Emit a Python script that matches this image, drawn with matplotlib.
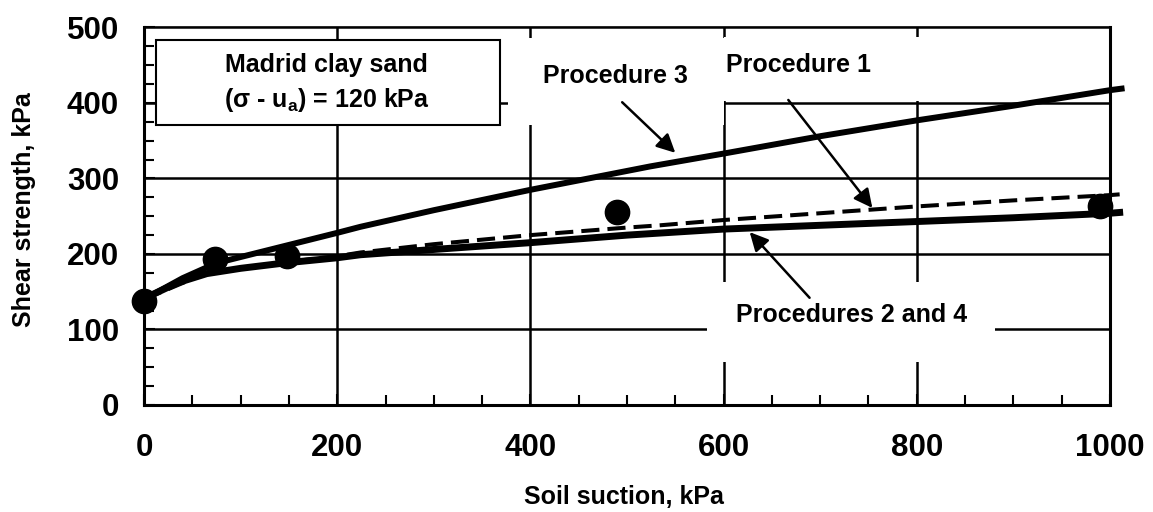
import numpy as np
import matplotlib
matplotlib.use("Agg")
import matplotlib.pyplot as plt
from matplotlib.patches import Rectangle

plt.rcParams['font.family'] = ['Liberation Sans', 'DejaVu Sans']
plt.rcParams['font.weight'] = 'bold'
plt.rcParams['axes.labelweight'] = 'bold'
plt.rcParams['mathtext.default'] = 'regular'

# measured points
pts_x = [0, 73, 148, 490, 990]
pts_y = [138, 193, 197, 255, 263]

# Procedure 3 curve
p3_x = [0, 40, 75, 150, 200, 224, 300, 400, 524, 600, 700, 800, 893, 1000, 1012]
p3_y = [140, 168, 188, 212, 228, 236, 258, 285, 316, 333, 356, 377, 395, 417, 419]

# Procedure 1 curve (dashed)
p1_x = [0, 65, 145, 200, 224, 300, 400, 500, 534, 600, 700, 800, 900, 1000, 1010]
p1_y = [140, 175, 189, 197, 202, 213, 225, 235, 238, 245, 254, 263, 271, 278, 279]

# Procedures 2 and 4 curve
p24_x = [0, 10, 35, 65, 100, 145, 200, 224, 300, 400, 500, 600, 700, 800, 900, 1000, 1010]
p24_y = [140, 147, 162, 174, 181, 188, 195, 199, 206, 215, 225, 233, 238, 243, 248, 254, 255]

fig = plt.figure(figsize=(11.53, 5.12), dpi=100)
ax = fig.add_axes([0.1249, 0.2090, 0.8378, 0.7373])
ax.set_xlim(0, 1000)
ax.set_ylim(0, 500)
ax.set_axisbelow(True)

# grid
ax.set_xticks([0, 200, 400, 600, 800, 1000])
ax.set_yticks([0, 100, 200, 300, 400, 500])
ax.set_xticks(np.arange(0, 1001, 50), minor=True)
ax.set_yticks(np.arange(0, 501, 25), minor=True)
ax.grid(True, which='major', color='black', lw=1.8)
ax.tick_params(which='both', direction='in', top=False, right=False, width=1.5)
ax.tick_params(which='major', length=8, labelsize=22.5)
ax.tick_params(which='minor', length=7)
ax.tick_params(axis='y', which='major', pad=18)
ax.tick_params(axis='x', which='major', pad=20)
for s in ['left', 'bottom', 'right']:
    ax.spines[s].set_linewidth(2.2)
ax.spines['top'].set_linewidth(1.2)

# white areas behind the labels (they hide the grid)
ax.add_patch(Rectangle((377, 371), 223, 115, facecolor='white', edgecolor='none', zorder=1))
ax.add_patch(Rectangle((600, 402), 205, 85, facecolor='white', edgecolor='none', zorder=1))
ax.add_patch(Rectangle((583, 57), 298, 106, facecolor='white', edgecolor='none', zorder=1))
ax.add_patch(Rectangle((12.5, 371), 356, 112, facecolor='white', edgecolor='black', lw=1.5, zorder=1))

# curves
ax.plot(p3_x, p3_y, color='black', lw=4.3, clip_on=False, zorder=3)
ax.plot(p24_x, p24_y, color='black', lw=5, clip_on=False, zorder=3)
ax.plot(p1_x, p1_y, color='black', lw=2.9, dashes=(4.5, 2), clip_on=False, zorder=4)
ax.plot(pts_x, pts_y, 'o', color='black', ms=17.5, clip_on=False, zorder=5)

# labels
ax.text(189, 450, 'Madrid clay sand', fontsize=18, ha='center', va='center', zorder=6)
ax.text(189, 404, '(σ - u$_a$) = 120 kPa', fontsize=18, ha='center', va='center', zorder=6)
ax.text(488, 436, 'Procedure 3', fontsize=18, ha='center', va='center', zorder=6)
ax.text(678, 450, 'Procedure 1', fontsize=18, ha='center', va='center', zorder=6)
ax.text(732, 119, 'Procedures 2 and 4', fontsize=18, ha='center', va='center', zorder=6)

arr = dict(arrowstyle='-|>', color='black', lw=1.8, mutation_scale=28, shrinkA=0, shrinkB=0)
ax.annotate('', xy=(550, 334), xytext=(495, 401), arrowprops=arr, zorder=6)
ax.annotate('', xy=(754, 261), xytext=(667, 404), arrowprops=arr, zorder=6)
ax.annotate('', xy=(627, 229), xytext=(689, 142), arrowprops=arr, zorder=6)

ax.set_xlabel('Soil suction, kPa', fontsize=18)
ax.set_ylabel('Shear strength, kPa', fontsize=18)
ax.xaxis.set_label_coords(0.497, -0.212)
ax.yaxis.set_label_coords(-0.112, 0.517)

fig.savefig('out.png', dpi=100)
